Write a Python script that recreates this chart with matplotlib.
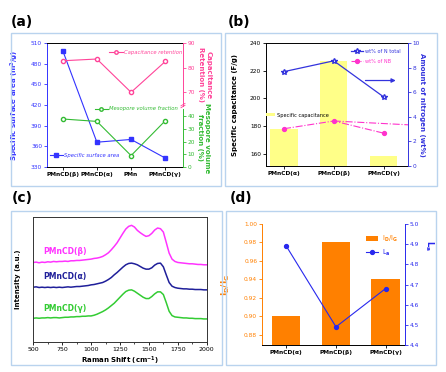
import numpy as np
import matplotlib.pyplot as plt
from matplotlib.patches import Rectangle
from matplotlib.lines import Line2D

plt.rcParams['font.family'] = ['DejaVu Sans']
plt.rcParams['mathtext.default'] = 'bf'

# ---- data ----
# (a)
samples_a = ['PMnCD(β)', 'PMnCD(α)', 'PMn', 'PMnCD(γ)']
surface_area = [499, 366, 370, 343]
cap_retention = [82.8, 83.5, 70.0, 82.5]
mesopore_frac = [37.9, 36.0, 9.0, 36.5]

# (b)
samples_b = ['PMnCD(α)', 'PMnCD(β)', 'PMnCD(γ)']
spec_cap = [178, 227, 158]
n_total = [7.67, 8.55, 5.62]
n_b = [3.03, 3.66, 2.67]

# (c) raman spectra, read every 25 cm-1
shift = np.arange(500, 2001, 25)
raman_beta = [238, 239, 237, 239, 238, 240, 239, 241, 240, 241, 241, 242, 241, 243, 243, 244,
              244, 245, 246, 247, 248, 250, 251, 253, 256, 261, 267, 276, 286, 297, 311, 325,
              338, 346, 349, 344, 334, 327, 321, 316, 318, 325, 335, 341, 339, 329, 298, 266,
              248, 241, 238, 237, 236, 235, 234, 234, 233, 232, 232, 231, 231]
raman_alpha = [164, 165, 163, 164, 163, 164, 163, 164, 163, 164, 163, 164, 165, 164, 165, 166,
               166, 167, 168, 169, 171, 172, 174, 176, 178, 182, 187, 193, 201, 208, 216, 224,
               231, 235, 236, 234, 231, 226, 221, 218, 218, 222, 230, 235, 236, 225, 201, 178,
               167, 163, 161, 160, 159, 159, 158, 158, 157, 157, 157, 156, 156]
raman_gamma = [71, 72, 71, 72, 72, 73, 72, 73, 73, 72, 73, 74, 74, 75, 75, 76,
               76, 77, 77, 78, 78, 80, 83, 87, 91, 96, 102, 109, 116, 125, 134, 143,
               151, 155, 156, 152, 146, 140, 134, 130, 130, 136, 144, 150, 150, 142, 118, 92,
               79, 75, 74, 73, 72, 72, 71, 71, 70, 70, 70, 69, 69]

# (d)
samples_d = ['PMnCD(α)', 'PMnCD(β)', 'PMnCD(γ)']
id_ig = [0.90, 0.98, 0.94]
la = [4.89, 4.49, 4.68]

W, H = 446, 372
def frac(l, t, r, b):
    return [l / W, 1 - b / H, (r - l) / W, (b - t) / H]

fig = plt.figure(figsize=(W / 100, H / 100), dpi=100)

# panel frames
box_col = '#b9d3ee'
for l, t, r, b in [(11, 33, 221, 186), (225, 33, 437, 186), (11, 211, 222, 365), (226, 211, 436, 365)]:
    fig.patches.append(Rectangle((l / W, 1 - b / H), (r - l) / W, (b - t) / H, fill=False,
                                 edgecolor=box_col, lw=1.0, transform=fig.transFigure))

for lab, x, y in [('(a)', 11, 22), ('(b)', 228, 22), ('(c)', 12, 198), ('(d)', 230, 198)]:
    fig.text(x / W, 1 - y / H, lab, fontsize=10, fontweight='bold', va='center', ha='left')

tfs = 4.2
lfs = 5

# ---------------- (a) ----------------
blue_a = '#3333ff'
pink_a = '#ff4499'
green_a = '#33bb33'
ax = fig.add_axes(frac(47, 43, 183, 167))
xa = np.arange(len(samples_a))
ax.plot(xa, surface_area, color=blue_a, marker='s', ms=3, lw=0.8)
ax.set_ylim(330, 510)
ax.set_yticks(np.arange(330, 511, 30))
ax.set_xlim(-0.46, 3.52)
ax.set_xticks(xa)
ax.set_xticklabels(samples_a, fontsize=tfs, fontweight='bold')
ax.tick_params(axis='y', colors=blue_a, labelsize=tfs, length=2, width=0.6, pad=1.5)
ax.tick_params(axis='x', length=2, width=0.6, pad=1.5)
ax.spines['left'].set_color(blue_a)
ax.spines['right'].set_visible(False)
for s in ax.spines.values():
    s.set_linewidth(0.7)
ax.set_ylabel('Specific surface area (m$^2$/g)', color=blue_a, fontsize=lfs, fontweight='bold')
ax.yaxis.set_label_coords(-0.19, 0.5)
ax.legend(handles=[Line2D([], [], color=blue_a, marker='s', ms=2.5, lw=0.8)],
          labels=['Specific surface area'], loc='center left', bbox_to_anchor=(0.0, 0.095),
          frameon=False, labelcolor=blue_a, handlelength=2.5, handletextpad=0.3,
          borderpad=0, prop={'style': 'italic', 'size': 3.8})

axp = ax.twinx()
axp.plot(xa, cap_retention, color=pink_a, marker='o', ms=3, mfc='white', lw=0.8)
axp.set_ylim(39.7, 90)
axp.set_yticks([70, 80, 90])
axp.tick_params(axis='y', colors=pink_a, labelsize=tfs, length=2, width=0.6, pad=1.5)
for k in ['left', 'top', 'bottom']:
    axp.spines[k].set_visible(False)
axp.spines['right'].set_color(pink_a)
axp.spines['right'].set_linewidth(0.7)
axp.spines['right'].set_bounds(64.5, 90)
axp.legend(handles=[Line2D([], [], color=pink_a, marker='o', ms=2.5, mfc='white', lw=0.8)],
           labels=['Capacitance retention'], loc='center left', bbox_to_anchor=(0.44, 0.924),
           frameon=False, labelcolor=pink_a, handlelength=2.5, handletextpad=0.3,
           borderpad=0, prop={'style': 'italic', 'size': 3.8})

axg = ax.twinx()
axg.plot(xa, mesopore_frac, color=green_a, marker='o', ms=3, mfc='white', lw=0.8)
axg.set_ylim(0, 97.9)
axg.set_yticks([0, 10, 20, 30, 40])
axg.tick_params(axis='y', colors=green_a, labelsize=tfs, length=2, width=0.6, pad=1.5)
for k in ['left', 'top', 'bottom']:
    axg.spines[k].set_visible(False)
axg.spines['right'].set_color(green_a)
axg.spines['right'].set_linewidth(0.7)
axg.spines['right'].set_bounds(0, 46)
axg.legend(handles=[Line2D([], [], color=green_a, marker='o', ms=2.5, mfc='white', lw=0.8)],
           labels=['Mesopore volume fraction'], loc='center left', bbox_to_anchor=(0.33, 0.468),
           frameon=False, labelcolor=green_a, handlelength=2.5, handletextpad=0.3,
           borderpad=0, prop={'style': 'italic', 'size': 3.8})
# axis break mark
for dy in (0.488, 0.503):
    ax.plot([0.985, 1.015], [dy - 0.01, dy + 0.01], transform=ax.transAxes, color=pink_a,
            lw=0.6, clip_on=False)
ax.text(1.16, 0.745, 'Capacitance\nRetention (%)', transform=ax.transAxes, rotation=270,
        ha='center', va='center', color=pink_a, fontsize=lfs, fontweight='bold',
        multialignment='center')
ax.text(1.15, 0.235, 'Mesopore volume\nfraction (%)', transform=ax.transAxes, rotation=270,
        ha='center', va='center', color=green_a, fontsize=lfs, fontweight='bold',
        multialignment='center')

# ---------------- (b) ----------------
blue_b = '#3333dd'
pink_b = '#ff33cc'
yellow = '#ffff88'
bx = fig.add_axes(frac(266, 43, 408, 166))
xb = np.arange(len(samples_b))
bx.bar(xb, spec_cap, width=0.55, color=yellow, label='Specific capacitance')
bx.set_ylim(151, 240)
bx.set_yticks([160, 180, 200, 220, 240])
bx.set_xlim(-0.36, 2.49)
bx.set_xticks(xb)
bx.set_xticklabels(samples_b, fontsize=tfs, fontweight='bold')
bx.tick_params(labelsize=tfs, length=2, width=0.6, pad=1.5)
for s in bx.spines.values():
    s.set_linewidth(0.7)
bx.spines['right'].set_visible(False)
bx.set_ylabel('Specific capacitance (F/g)', fontsize=lfs, fontweight='bold')
bx.yaxis.set_label_coords(-0.2, 0.5)
bx.legend(loc='center left', bbox_to_anchor=(-0.02, 0.414), frameon=False, handlelength=1.8,
          handleheight=0.6, handletextpad=0.4, borderpad=0, prop={'size': 3.6})

bx2 = bx.twinx()
bx2.plot(xb, n_total, color=blue_b, marker='*', ms=4, mfc='white', lw=0.9, label='wt% of N total')
bx2.plot(xb, n_b, color=pink_b, marker='o', ms=2.8, lw=0.8, ls='-.', label='wt% of NB')
bx2.plot([xb[1], 2.49], [n_b[1], 3.35], color=pink_b, lw=0.8, ls='-.')
bx2.annotate('', xy=(2.3, 6.95), xytext=(1.58, 6.95),
             arrowprops=dict(arrowstyle='-|>', color=blue_b, lw=0.9, mutation_scale=6))
bx2.set_ylim(0, 10)
bx2.set_yticks([0, 2, 4, 6, 8, 10])
bx2.tick_params(axis='y', colors=blue_b, labelsize=tfs, length=2, width=0.6, pad=1.5)
for k in ['left', 'top', 'bottom']:
    bx2.spines[k].set_visible(False)
bx2.spines['right'].set_color(blue_b)
bx2.spines['right'].set_linewidth(0.7)
bx2.set_ylabel('Amount of nitrogen (wt%)', color=blue_b, fontsize=lfs, fontweight='bold',
               rotation=270)
bx2.yaxis.set_label_coords(1.12, 0.5)
leg = bx2.legend(loc='upper left', bbox_to_anchor=(0.58, 0.97), frameon=False, handlelength=2.5,
                 handletextpad=0.3, borderpad=0, labelspacing=0.9, prop={'size': 3.6})
for t, c in zip(leg.get_texts(), [blue_b, pink_b]):
    t.set_color(c)

# ---------------- (c) ----------------
mag = '#ff33ff'
navy = '#1f1f9a'
grn = '#33cc33'
cx = fig.add_axes(frac(33.3, 217, 206.7, 342))
cx.plot(shift, raman_beta, color=mag, lw=1.1)
cx.plot(shift, raman_alpha, color=navy, lw=1.1)
cx.plot(shift, raman_gamma, color=grn, lw=1.1)
cx.set_xlim(500, 2000)
cx.set_ylim(0, 374)
cx.set_xticks(np.arange(500, 2001, 250))
cx.set_xticks(np.arange(625, 2000, 250), minor=True)
cx.set_yticks([])
cx.tick_params(axis='x', labelsize=tfs + 0.3, length=2, width=0.6, pad=1.5)
cx.tick_params(axis='x', which='minor', length=1.5, width=0.5)
for s in cx.spines.values():
    s.set_linewidth(0.7)
    s.set_color('#333333')
cx.set_ylabel('Intensity (a.u.)', fontsize=lfs, fontweight='bold')
cx.yaxis.set_label_coords(-0.07, 0.5)
cx.set_xlabel('Raman Shift (cm$^{-1}$)', fontsize=lfs, fontweight='bold', labelpad=2)
cx.text(585, 271, 'PMnCD(β)', color=mag, fontsize=5.5, fontweight='bold', va='center')
cx.text(585, 196, 'PMnCD(α)', color=navy, fontsize=5.5, fontweight='bold', va='center')
cx.text(585, 99, 'PMnCD(γ)', color=grn, fontsize=5.5, fontweight='bold', va='center')

# ---------------- (d) ----------------
orange = '#ff8000'
blue_d = '#2828ee'
dx = fig.add_axes(frac(262, 224, 405, 345))
xd = np.arange(len(samples_d))
dx.bar(xd, id_ig, width=0.57, color=orange, label='I$_D$/I$_G$')
dx.set_ylim(0.869, 1.0)
dx.set_yticks(np.arange(0.88, 1.001, 0.02))
dx.set_yticklabels(['%.2f' % v for v in np.arange(0.88, 1.001, 0.02)])
dx.set_xlim(-0.49, 2.39)
dx.set_xticks(xd)
dx.set_xticklabels(samples_d, fontsize=tfs, fontweight='bold')
dx.tick_params(axis='y', colors=orange, labelsize=tfs, length=2, width=0.6, pad=1.5)
dx.tick_params(axis='x', length=2, width=0.6, pad=1.5)
for s in dx.spines.values():
    s.set_linewidth(0.7)
dx.spines['left'].set_color(orange)
dx.spines['top'].set_visible(False)
dx.spines['right'].set_visible(False)
dx.set_ylabel('I$_D$/I$_G$', color=orange, fontsize=6.5, fontweight='bold')
dx.yaxis.set_label_coords(-0.21, 0.5)

dx2 = dx.twinx()
dx2.plot(xd, la, color=blue_d, marker='o', ms=2.8, lw=0.8, label='L$_a$')
dx2.set_ylim(4.4, 5.0)
dx2.set_yticks(np.arange(4.4, 5.01, 0.1))
dx2.set_yticklabels(['%.1f' % v for v in np.arange(4.4, 5.01, 0.1)])
dx2.tick_params(axis='y', colors=blue_d, labelsize=tfs, length=2, width=0.6, pad=1.5)
for k in ['left', 'top', 'bottom']:
    dx2.spines[k].set_visible(False)
dx2.spines['right'].set_color(blue_d)
dx2.spines['right'].set_linewidth(0.7)
dx2.text(1.17, 0.82, 'L$_a$', transform=dx2.transAxes, rotation=270, color=blue_d,
         fontsize=6, fontweight='bold', ha='center', va='center')
h1, l1 = dx.get_legend_handles_labels()
h2, l2 = dx2.get_legend_handles_labels()
leg = dx2.legend(h1 + h2, l1 + l2, loc='upper right', bbox_to_anchor=(0.97, 0.95), frameon=False,
                 handlelength=1.8, handleheight=0.8, handletextpad=0.5, borderpad=0,
                 labelspacing=0.6, prop={'size': 4.8})
for t, c in zip(leg.get_texts(), [orange, blue_d]):
    t.set_color(c)

fig.savefig('out.png', dpi=100)
